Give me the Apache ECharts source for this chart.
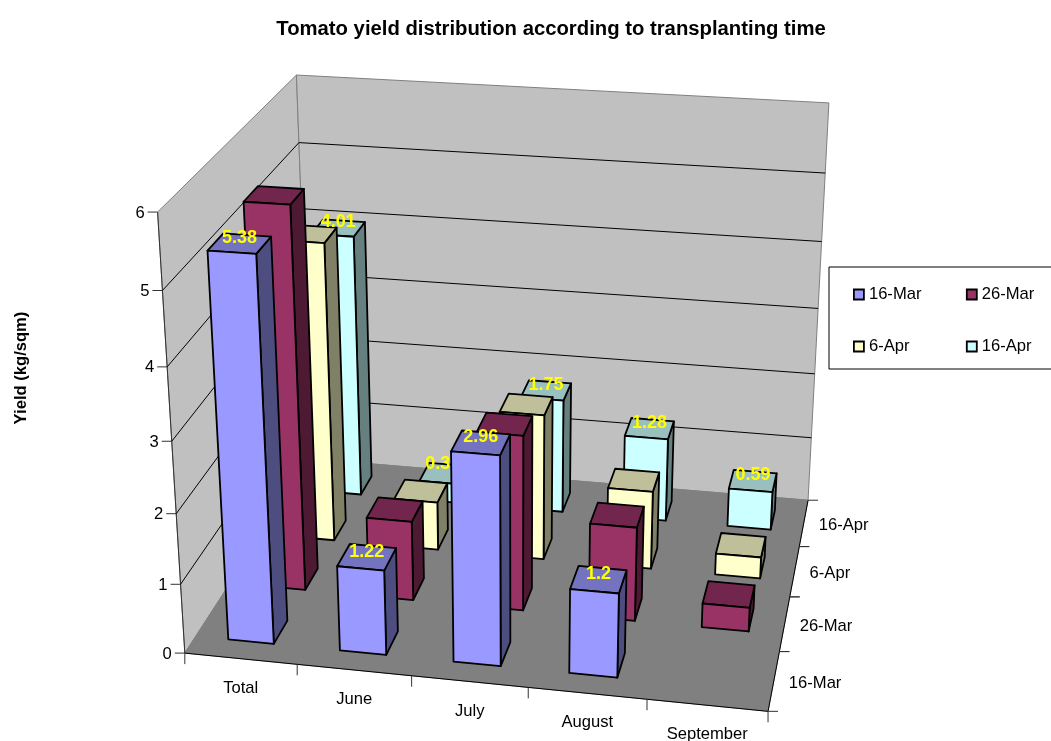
<!DOCTYPE html>
<html>
<head>
<meta charset="utf-8">
<title>Tomato yield</title>
<script src="https://cdn.jsdelivr.net/npm/echarts@6/dist/echarts.min.js"></script>
<style>
html, body { margin: 0; padding: 0; background: #fff; }
#chart { width: 1051px; height: 741px; }
</style>
</head>
<body>
<div id="chart"></div>
<script>
const categories = ['Total', 'June', 'July', 'August', 'September']
const plantings = ['16-Mar', '26-Mar', '6-Apr', '16-Apr']
const valueTicks = [0, 1, 2, 3, 4, 5, 6]

const mar16 = [5.38, 1.22, 2.96, 1.2, null]
const mar26 = [5.5, 1.17, 2.55, 1.37, 0.35]
const apr6 = [4.45, 0.73, 2.18, 1.17, 0.32]
const apr16 = [4.01, 0.3, 1.75, 1.28, 0.59]

const yieldRows = [mar16, mar26, apr6, apr16]
const colors = ['#9999FF', '#993366', '#FFFFCC', '#CCFFFF']
const topColors = ['#7373BF', '#73264D', '#BFBF99', '#99BFBF']
const sideColors = ['#4D4D80', '#4D1933', '#808066', '#668080']
const labelled = [0, 3]

const FONT = '"Liberation Sans", Arial, sans-serif'
const maxValue = 6
const barHalf = 0.205     // half bar width, in category widths
const barFront = 0.3      // bar front / back, in row depths
const barBack = 0.72

// where the corners of the unit box land on the page (u, v, w, x, y)
const boxCorners = [
    [0, 0, 0, 184.5, 653], [1, 0, 0, 768, 711.5], [0, 1, 0, 311, 459], [1, 1, 0, 808, 500],
    [0, 0, 1, 158, 212], [0, 1, 1, 296, 75], [1, 1, 1, 829, 103]
]

// least squares fit of the perspective matrix from the corners above
function fitProjection() {
    const rows = [], rhs = []
    boxCorners.forEach(([u, v, w, x, y]) => {
        rows.push([u, v, w, 1, 0, 0, 0, 0, -x * u, -x * v, -x * w]); rhs.push(x)
        rows.push([0, 0, 0, 0, u, v, w, 1, -y * u, -y * v, -y * w]); rhs.push(y)
    })
    const n = 11
    const m = []
    for (let i = 0; i < n; i++) {
        m[i] = []
        for (let j = 0; j < n; j++) {
            m[i][j] = rows.reduce((s, r) => s + r[i] * r[j], 0)
        }
        m[i][n] = rows.reduce((s, r, k) => s + r[i] * rhs[k], 0)
    }
    for (let c = 0; c < n; c++) {
        let best = c
        for (let r = c + 1; r < n; r++) if (Math.abs(m[r][c]) > Math.abs(m[best][c])) best = r
        const t = m[c]; m[c] = m[best]; m[best] = t
        for (let r = 0; r < n; r++) {
            if (r === c) continue
            const f = m[r][c] / m[c][c]
            for (let k = c; k <= n; k++) m[r][k] -= f * m[c][k]
        }
    }
    return m.map((r, i) => r[n] / r[i])
}
const P = fitProjection()

function project(u, v, w) {
    const d = P[8] * u + P[9] * v + P[10] * w + 1
    return [(P[0] * u + P[1] * v + P[2] * w + P[3]) / d, (P[4] * u + P[5] * v + P[6] * w + P[7]) / d]
}

// hidden cartesian grid gives u and w through the axis scales
function toUnit(params, api, cat, val) {
    const pt = api.coord([cat, val])
    const cs = params.coordSys
    return [(pt[0] - cs.x) / cs.width, 1 - (pt[1] - cs.y) / cs.height]
}

function poly(points, fill, stroke, lineWidth) {
    return { type: 'polygon', shape: { points: points }, style: { fill: fill, stroke: stroke, lineWidth: lineWidth, lineJoin: 'round' } }
}
function line(a, b, stroke, lineWidth) {
    return { type: 'line', shape: { x1: a[0], y1: a[1], x2: b[0], y2: b[1] }, style: { stroke: stroke, lineWidth: lineWidth } }
}
function label(x, y, text, align, fontWeight, fill, fontSize) {
    return {
        type: 'text',
        style: { x: x, y: y, text: text, align: align, verticalAlign: 'middle', fill: fill || '#000', fontSize: fontSize || 16.6, fontFamily: FONT, fontWeight: fontWeight || 'normal' }
    }
}

function renderFrame() {
    const g = '#808080'
    const c = (u, v, w) => project(u, v, w)
    return {
        type: 'group',
        children: [
            poly([c(0, 0, 0), c(0, 1, 0), c(0, 1, 1), c(0, 0, 1)], '#C0C0C0', g, 1),
            poly([c(0, 1, 0), c(1, 1, 0), c(1, 1, 1), c(0, 1, 1)], '#C0C0C0', g, 1),
            poly([c(0, 0, 0), c(1, 0, 0), c(1, 1, 0), c(0, 1, 0)], '#808080', '#808080', 1),
            line(c(0, 0, 0), c(1, 0, 0), '#000', 1),
            line(c(1, 0, 0), c(1, 1, 0), '#000', 1),
            line(c(0, 0, 0), c(0, 0, 1), '#333', 1)
        ]
    }
}

function renderValueTick(params, api) {
    const t = api.value(1)
    const w = toUnit(params, api, 0, t)[1]
    const a = project(0, 0, w), b = project(0, 1, w), d = project(1, 1, w)
    const children = [
        line([a[0] - 10, a[1]], a, '#333', 1),
        label(a[0] - 13, a[1] + 1, String(t), 'right')
    ]
    if (t > 0 && t < maxValue) {
        children.push(line(a, b, '#000', 1), line(b, d, '#000', 1))
    }
    return { type: 'group', children: children }
}

function renderCategoryTick(params, api) {
    const i = api.value(0)
    const mid = toUnit(params, api, i, 0)[0]
    const p = project(mid, 0, 0)
    const edge = project((i + 1) / categories.length, 0, 0)
    const children = [label(p[0], p[1] + 29.5, categories[i], 'center')]
    children.push(line(edge, [edge[0], edge[1] + 11], '#333', 1))
    if (i === 0) {
        const o = project(0, 0, 0)
        children.push(line(o, [o[0], o[1] + 11], '#333', 1))
    }
    return { type: 'group', children: children }
}

function renderDepthTick(params, api) {
    const k = api.value(0)
    const n = plantings.length
    const edge = project(1, (k + 1) / n, 0)
    const start = project(1, k / n, 0)
    const mid = project(1, (k + 0.5) / n, 0)
    return {
        type: 'group',
        children: [
            line(start, [start[0] + 10, start[1]], '#333', 1),
            line(edge, [edge[0] + 10, edge[1]], '#333', 1),
            label(mid[0] + 15, mid[1] + 2.5, plantings[k], 'left')
        ]
    }
}

function barRenderer(k) {
    return function (params, api) {
        const val = api.value(1)
        if (isNaN(val) || val <= 0) return null
        const n = categories.length
        const mid = toUnit(params, api, api.value(0), 0)[0]
        const h = toUnit(params, api, api.value(0), val)[1]
        const u0 = mid - barHalf / n, u1 = mid + barHalf / n
        const v0 = (k + barFront) / plantings.length, v1 = (k + barBack) / plantings.length
        const fb0 = project(u0, v0, 0), fb1 = project(u1, v0, 0), ft0 = project(u0, v0, h), ft1 = project(u1, v0, h)
        const bb1 = project(u1, v1, 0), bt0 = project(u0, v1, h), bt1 = project(u1, v1, h)
        return {
            type: 'group',
            children: [
                poly([fb1, bb1, bt1, ft1], sideColors[k], '#000', 1.8),
                poly([ft0, ft1, bt1, bt0], topColors[k], '#000', 1.8),
                poly([fb0, fb1, ft1, ft0], colors[k], '#000', 1.8)
            ]
        }
    }
}

function renderBarLabel(params, api) {
    const k = api.value(2)
    const cat = api.value(0)
    const mid = toUnit(params, api, cat, 0)[0]
    const h = toUnit(params, api, cat, api.value(1))[1]
    const p = project(mid, (k + (barFront + barBack) / 2) / plantings.length, h)
    // the 0.3 label sits clear of the July bar in front of it
    const nudge = (cat === 1 && k === 3) ? [-7, -4] : [0, 0]
    return label(p[0] + nudge[0], p[1] - 5.5 + nudge[1], String(api.value(1)), 'center', 'bold', '#FFFF00', 18)
}

const labelData = []
labelled.forEach(k => yieldRows[k].forEach((v, i) => {
    if (v !== null) labelData.push([i, v, k])
}))

// back row first so the front rows paint over it
const barSeries = plantings.map((name, k) => ({
    name: name,
    type: 'custom',
    z: 8 - k,
    silent: true,
    itemStyle: { color: colors[k] },
    renderItem: barRenderer(k),
    data: yieldRows[k].map((v, i) => [i, v])
}))

const chart = echarts.init(document.getElementById('chart'), null, { renderer: 'canvas' })
chart.setOption({
    animation: false,
    backgroundColor: '#fff',
    title: {
        text: 'Tomato yield distribution according to transplanting time',
        left: 546, top: 14, textAlign: 'center',
        textStyle: { fontFamily: FONT, fontSize: 20.3, fontWeight: 'bold', color: '#000' }
    },
    grid: { left: 0, right: 0, top: 0, bottom: 0 },
    xAxis: { type: 'category', show: false, data: categories },
    yAxis: { type: 'value', show: false, min: 0, max: maxValue, interval: 1 },
    legend: {
        left: 829, top: 267,
        width: 205,
        padding: [19, 12, 14, 24],
        itemWidth: 10, itemHeight: 10, itemGap: 35,
        borderColor: '#000', borderWidth: 1,
        selectedMode: false,
        textStyle: { fontFamily: FONT, fontSize: 16.6, color: '#000', width: 62, lineHeight: 14 },
        data: plantings.map((name, k) => ({
            name: name, icon: 'rect',
            itemStyle: { color: colors[k], borderColor: '#000', borderWidth: 1.8 }
        }))
    },
    graphic: [{
        type: 'text', x: 21, y: 368, rotation: Math.PI / 2,
        style: { text: 'Yield (kg/sqm)', align: 'center', verticalAlign: 'middle', fontSize: 16.6, fontWeight: 'bold', fontFamily: FONT, fill: '#000' }
    }],
    series: [
        { type: 'custom', z: 1, silent: true, renderItem: renderFrame, data: [[0, 0]] },
        { type: 'custom', z: 2, silent: true, renderItem: renderValueTick, data: valueTicks.map(t => [0, t]) },
        { type: 'custom', z: 2, silent: true, renderItem: renderCategoryTick, data: categories.map((c, i) => [i, 0]) },
        { type: 'custom', z: 2, silent: true, renderItem: renderDepthTick, data: plantings.map((p, k) => [k, 0]) }
    ].concat(barSeries, [
        { type: 'custom', z: 20, silent: true, renderItem: renderBarLabel, data: labelData }
    ])
})
</script>
</body>
</html>
